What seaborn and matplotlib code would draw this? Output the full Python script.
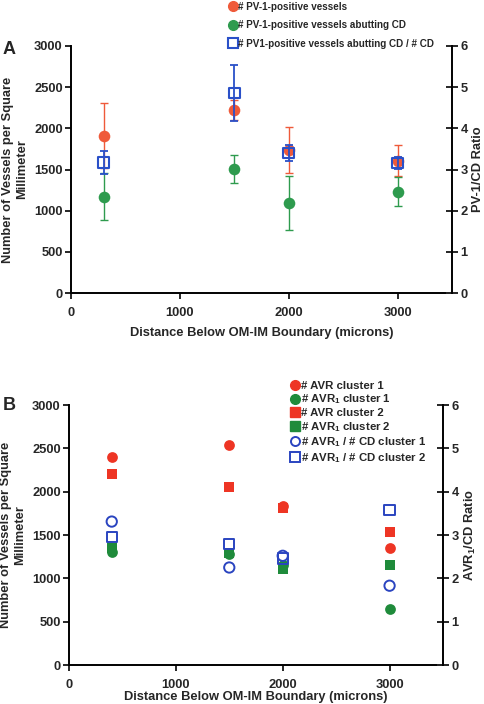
import numpy as np
import pandas as pd
import seaborn as sns
import matplotlib
matplotlib.use("Agg")
import matplotlib.pyplot as plt
from matplotlib.lines import Line2D

# ---------------- data ----------------
# Panel A
a_x = [300, 1500, 2000, 3000]
a_pv1 = [1911, 2226, 1734, 1605]
a_pv1_err = [395, 120, 278, 190]
a_pv1_cd = [1169, 1508, 1093, 1230]
a_pv1_cd_err = [286, 170, 326, 173]
a_ratio = [3.17, 4.86, 3.40, 3.16]
a_ratio_err = [0.27, 0.67, 0.20, 0.14]

# Panel B
b_x = [400, 1500, 2000, 3000]
b_avr_c1 = [2404, 2542, 1835, 1346]
b_avr1_c1 = [1300, 1280, 1150, 642]
b_avr_c2 = [2200, 2058, 1808, 1531]
b_avr1_c2 = [1354, 1288, 1108, 1158]
b_ratio_c1 = [3.31, 2.25, 2.52, 1.83]
b_ratio_c2 = [2.95, 2.80, 2.46, 3.58]

left_ticks = [0, 500, 1000, 1500, 2000, 2500, 3000]
right_ticks = [0, 1, 2, 3, 4, 5, 6]
x_ticks = [0, 1000, 2000, 3000]

# ---------------- style ----------------
sns.set_style("white")
plt.rcParams['font.family'] = ['Liberation Sans', 'DejaVu Sans']
plt.rcParams['font.weight'] = 'bold'
plt.rcParams['axes.labelweight'] = 'bold'
plt.rcParams['mathtext.fontset'] = 'custom'
plt.rcParams['mathtext.rm'] = 'Liberation Sans:bold'
plt.rcParams['mathtext.bf'] = 'Liberation Sans:bold'
plt.rcParams['mathtext.it'] = 'Liberation Sans:bold'
plt.rcParams['mathtext.default'] = 'bf'

W, H = 484, 704
fig = plt.figure(figsize=(W / 100, H / 100), dpi=100)

def px_axes(l, r, t, b):
    return fig.add_axes([l / W, 1 - b / H, (r - l) / W, (b - t) / H])

RED_A = "#EF5A3A"
GREEN_A = "#2E9B4E"
BLUE_A = "#2A50C8"
RED_B = "#EE3524"
GREEN_B = "#1F8B3B"
BLUE_B = "#2A44C0"

FS = 9.3
SPW = 1.4

def style_axes(ax, ax2, ylabel_right):
    ax.set_xlim(0, 3500)
    ax.set_ylim(0, 3000)
    ax2.set_ylim(0, 6)
    ax.set_xticks(x_ticks)
    ax.set_yticks(left_ticks)
    ax2.set_yticks(right_ticks)
    for a in (ax, ax2):
        a.spines['top'].set_visible(False)
        for s in a.spines.values():
            s.set_linewidth(SPW)
            s.set_color('black')
        a.patch.set_visible(False)
    ax.spines['right'].set_visible(False)
    ax2.spines['left'].set_visible(False)
    ax2.spines['bottom'].set_visible(False)
    ax.tick_params(axis='y', direction='out', length=4, width=SPW, labelsize=FS, pad=2, left=True)
    ax.tick_params(axis='x', direction='out', length=4, width=SPW, labelsize=FS, pad=6, bottom=True)
    ax2.tick_params(axis='y', direction='inout', length=8, width=SPW, labelsize=FS, pad=2, right=True)
    for lab in ax.get_xticklabels() + ax.get_yticklabels() + ax2.get_yticklabels():
        lab.set_fontweight('bold')
    ax.set_ylabel("Number of Vessels per Square\nMillimeter", fontsize=FS, fontweight='bold',
                  linespacing=1.25, labelpad=4)
    ax2.set_ylabel(ylabel_right, fontsize=FS, fontweight='bold', labelpad=3)

# ---------------- Panel A ----------------
axA = px_axes(71, 452, 46, 293)
axA2 = axA.twinx()

axA.errorbar(a_x, a_pv1, yerr=a_pv1_err, fmt='none', ecolor=RED_A, elinewidth=1.0, capsize=3, capthick=1.0)
axA.errorbar(a_x, a_pv1_cd, yerr=a_pv1_cd_err, fmt='none', ecolor=GREEN_A, elinewidth=1.0, capsize=3, capthick=1.0)
sns.scatterplot(x=a_x, y=a_pv1, ax=axA, color=RED_A, marker='o', s=70, edgecolor=RED_A, linewidth=0,
                legend=False, zorder=3)
sns.scatterplot(x=a_x, y=a_pv1_cd, ax=axA, color=GREEN_A, marker='o', s=70, edgecolor=GREEN_A, linewidth=0,
                legend=False, zorder=3)
axA2.errorbar(a_x, a_ratio, yerr=a_ratio_err, fmt='none', ecolor=BLUE_A, elinewidth=1.3, capsize=3, capthick=1.3)
sns.scatterplot(x=a_x, y=a_ratio, ax=axA2, color=BLUE_A, marker='s', s=60, facecolors='none',
                edgecolor=BLUE_A, linewidth=1.5, legend=False, zorder=3)

style_axes(axA, axA2, "PV-1/CD Ratio")
axA.set_xlabel("Distance Below OM-IM Boundary (microns)", fontsize=FS, fontweight='bold', labelpad=6)

hA = [Line2D([], [], ls='none', marker='o', color=RED_A, markersize=7),
      Line2D([], [], ls='none', marker='o', color=GREEN_A, markersize=7),
      Line2D([], [], ls='none', marker='s', mfc='none', mec=BLUE_A, mew=1.5, markersize=7)]
lA = ["# PV-1-positive vessels", "# PV-1-positive vessels abutting CD",
      "# PV1-positive vessels abutting CD / # CD"]
fig.legend(hA, lA, loc='upper left', bbox_to_anchor=(222 / W, 1 - (-5) / H), frameon=False,
           prop={'size': 7.1, 'weight': 'bold'}, handlelength=0.8, handletextpad=0.15,
           labelspacing=0.85, borderpad=0.2)

fig.text(3 / W, 1 - 50 / H, "A", fontsize=13, fontweight='bold', va='center', ha='left')

# ---------------- Panel B ----------------
axB = px_axes(69, 443, 405, 665)
axB2 = axB.twinx()

sns.scatterplot(x=b_x, y=b_avr_c1, ax=axB, color=RED_B, marker='o', s=60, edgecolor=RED_B, linewidth=0,
                legend=False, zorder=3)
sns.scatterplot(x=b_x, y=b_avr_c2, ax=axB, color=RED_B, marker='s', s=55, edgecolor=RED_B, linewidth=0,
                legend=False, zorder=3)
sns.scatterplot(x=b_x, y=b_avr1_c2, ax=axB, color=GREEN_B, marker='s', s=55, edgecolor=GREEN_B, linewidth=0,
                legend=False, zorder=3)
sns.scatterplot(x=b_x, y=b_avr1_c1, ax=axB, color=GREEN_B, marker='o', s=60, edgecolor=GREEN_B, linewidth=0,
                legend=False, zorder=3)
sns.scatterplot(x=b_x, y=b_ratio_c1, ax=axB2, color=BLUE_B, marker='o', s=55, facecolors='none',
                edgecolor=BLUE_B, linewidth=1.4, legend=False, zorder=3)
sns.scatterplot(x=b_x, y=b_ratio_c2, ax=axB2, color=BLUE_B, marker='s', s=55, facecolors='none',
                edgecolor=BLUE_B, linewidth=1.4, legend=False, zorder=3)

style_axes(axB, axB2, r"AVR$_{1}$/CD Ratio")
axB.set_xlabel("Distance Below OM-IM Boundary (microns)", fontsize=FS, fontweight='bold', labelpad=0)

hB = [Line2D([], [], ls='none', marker='o', color=RED_B, markersize=7),
      Line2D([], [], ls='none', marker='o', color=GREEN_B, markersize=7),
      Line2D([], [], ls='none', marker='s', color=RED_B, markersize=6.5),
      Line2D([], [], ls='none', marker='s', color=GREEN_B, markersize=6.5),
      Line2D([], [], ls='none', marker='o', mfc='none', mec=BLUE_B, mew=1.4, markersize=6.5),
      Line2D([], [], ls='none', marker='s', mfc='none', mec=BLUE_B, mew=1.4, markersize=6.5)]
lB = ["# AVR cluster 1", r"# AVR$_{1}$ cluster 1", "# AVR cluster 2", r"# AVR$_{1}$ cluster 2",
      r"# AVR$_{1}$ / # CD cluster 1", r"# AVR$_{1}$ / # CD cluster 2"]
fig.legend(hB, lB, loc='upper left', bbox_to_anchor=(282 / W, 1 - 373 / H), frameon=False,
           prop={'size': 8.2, 'weight': 'bold'}, handlelength=0.8, handletextpad=0.15,
           labelspacing=0.15, borderpad=0.2)

fig.text(3 / W, 1 - 406 / H, "B", fontsize=13, fontweight='bold', va='center', ha='left')

fig.savefig("out.png", dpi=100)
